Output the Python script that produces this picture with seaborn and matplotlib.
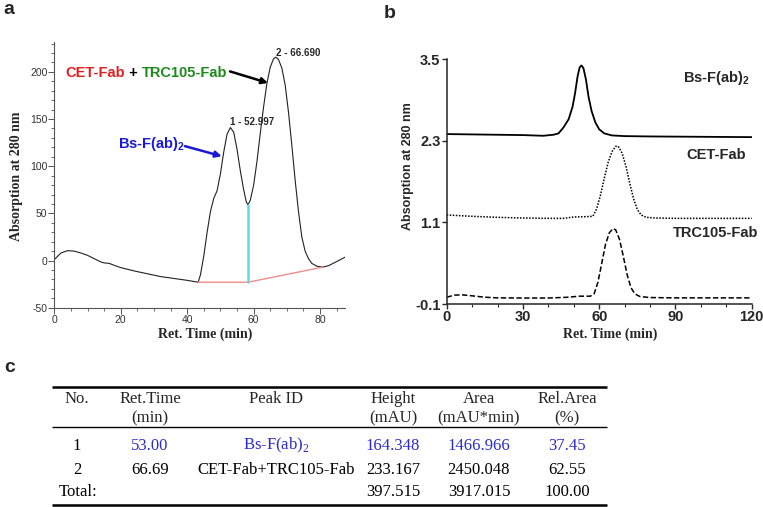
import numpy as np
import pandas as pd
import seaborn as sns
import matplotlib.pyplot as plt
from matplotlib.ticker import MultipleLocator

# ---- panel a : SEC trace of the reaction mix
a_time = [0, 2, 4, 6, 8, 10, 12, 14, 15, 16.5, 18, 20, 24, 28, 32, 36, 40, 43.3,
          44, 45, 46, 47, 48, 49, 50, 51, 52, 53, 54, 55, 56, 57, 57.8, 58.3,
          59, 60, 61, 62, 63, 64, 65, 66, 66.7, 67.5, 68.5, 69.5, 70.5, 71.5,
          72.5, 73.5, 74.5, 75.5, 76.5, 77.5, 79, 80.8, 82.5, 84.5, 87.5]
a_abs = [1, 8, 10.5, 10, 8, 5.5, 2, -1.5, -2.5, -3, -5, -7.5, -11, -14, -17, -19, -21, -23,
         -15, 5, 30, 52, 66, 74, 92, 115, 134, 141, 136, 118, 95, 75, 62, 59,
         64, 80, 105, 135, 163, 188, 205, 214, 215.6, 213, 204, 186, 157, 122,
         85, 52, 25, 10, 2, -3, -6, -7, -5.5, -2, 3.5]
a_peak_time = [52.997, 66.690]
a_peak_label = ['1 - 52.997', '2 - 66.690']
a_peak_label_y = [147, 220.5]
a_base_t = [43.3, 58.3, 80.8]
a_base_y = [-23, -23, -7]
a_split_y = [-23, 59]

# ---- panel b : individual runs, stacked
b_bs_t = [0, 10, 20, 30, 38, 42, 44, 46, 48, 49.5, 50.5, 51.5, 52.3, 53, 53.8,
          54.8, 55.8, 57, 58.5, 60, 62, 65, 70, 80, 100, 120]
b_bs = [2.40, 2.395, 2.39, 2.385, 2.375, 2.39, 2.41, 2.50, 2.62, 2.80, 3.00, 3.25,
        3.38, 3.41, 3.37, 3.20, 2.95, 2.74, 2.57, 2.47, 2.41, 2.38, 2.37, 2.365,
        2.36, 2.355]
b_cet_t = [0, 10, 20, 30, 40, 46, 50, 55, 57.5, 59, 60.5, 62, 63.5, 65, 66.5,
           67.5, 69, 70.5, 72, 73.5, 75, 76.5, 78.5, 82, 90, 100, 120]
b_cet = [1.21, 1.19, 1.175, 1.165, 1.16, 1.16, 1.18, 1.185, 1.19, 1.30, 1.50,
         1.75, 1.98, 2.14, 2.22, 2.22, 2.12, 1.93, 1.68, 1.45, 1.29, 1.21, 1.175,
         1.165, 1.16, 1.16, 1.16]
b_trc_t = [0, 3, 6, 10, 15, 20, 30, 40, 48, 52, 56.5, 58, 59.5, 61, 62.5, 64,
           65.5, 66.5, 68, 69.5, 71, 72.5, 74, 76, 80, 90, 120]
b_trc = [0.0, 0.03, 0.035, 0.02, 0.0, -0.01, -0.012, -0.012, 0.0, 0.015, 0.015,
         0.05, 0.22, 0.50, 0.78, 0.95, 1.01, 0.99, 0.85, 0.60, 0.33, 0.14, 0.05,
         0.01, -0.005, -0.01, -0.01]
b_names = ['Bs-F(ab)$_\\mathregular{2}$', 'CET-Fab', 'TRC105-Fab']
b_name_y = [3.22, 2.09, 0.94]

# ---- panel c : peak table
tbl_head1 = ['No.', 'Ret.Time', 'Peak ID', 'Height', 'Area', 'Rel.Area']
tbl_head2 = ['', '(min)', '', '(mAU)', '(mAU*min)', '(%)']
tbl_no = ['1', '2', 'Total:']
tbl_rt = ['53.00', '66.69', '']
tbl_peak = ['Bs-F(ab)$_\\mathregular{2}$', 'CET-Fab+TRC105-Fab', '']
tbl_height = ['164.348', '233.167', '397.515']
tbl_area = ['1466.966', '2450.048', '3917.015']
tbl_rel = ['37.45', '62.55', '100.00']

sns.set_style('ticks')
plt.rcParams['font.family'] = ['Liberation Sans', 'DejaVu Sans']
plt.rcParams['axes.linewidth'] = 1.0
plt.rcParams['axes.unicode_minus'] = False

W, H = 763, 507
fig = plt.figure(figsize=(W / 100, H / 100), dpi=100)
fig.patch.set_facecolor('white')

def box(x0, y0, x1, y1):
    return [x0 / W, 1 - y1 / H, (x1 - x0) / W, (y1 - y0) / H]

serif = 'Liberation Serif'
blue_txt = '#2b2bd0'

# ================= panel a
ax_a = fig.add_axes(box(54.3, 41.7, 345, 307.7))
sns.lineplot(x=a_time, y=a_abs, ax=ax_a, color='#222222', lw=0.8,
             estimator=None, sort=False)
ax_a.plot(a_base_t, a_base_y, color='#f08c8c', lw=1.0)
ax_a.plot([a_base_t[1], a_base_t[1]], a_split_y, color='#5fd8ea', lw=1.8)
ax_a.set_xlim(0, 87.5)
ax_a.set_ylim(-50, 232)
ax_a.set_xticks([0, 20, 40, 60, 80])
ax_a.set_yticks([-50, 0, 50, 100, 150, 200])
ax_a.xaxis.set_minor_locator(MultipleLocator(5))
ax_a.yaxis.set_minor_locator(MultipleLocator(10))
for s in ['top', 'right']:
    ax_a.spines[s].set_visible(False)
for s in ['left', 'bottom']:
    ax_a.spines[s].set_color('#555555')
    ax_a.spines[s].set_linewidth(0.8)
ax_a.tick_params(which='major', length=4, width=0.7, color='#555555',
                 labelsize=7.5, labelcolor='#333333', pad=1)
ax_a.tick_params(which='minor', length=2.2, width=0.6, color='#555555')
ax_a.set_xlabel('')
ax_a.set_ylabel('')

for t, lab, ly in zip(a_peak_time, a_peak_label, a_peak_label_y):
    ax_a.text(t, ly, lab, fontsize=7, fontweight='bold', ha='left', va='center')

t1 = ax_a.text(3.4, 195, 'CET-Fab', color='#e02020', fontsize=10.5,
               fontweight='bold', ha='left', va='baseline')
t2 = ax_a.annotate(' + ', xy=(1, 0), xycoords=t1, color='black', fontsize=10.5,
                   fontweight='bold', ha='left', va='bottom')
ax_a.annotate('TRC105-Fab', xy=(1, 0), xycoords=t2, color='#1e8a1e',
              fontsize=10.5, fontweight='bold', ha='left', va='bottom')
ax_a.text(19.2, 119, 'Bs-F(ab)$_\\mathregular{2}$', color='#1a1ad6', fontsize=10.5,
          fontweight='bold', ha='left', va='baseline')
ax_a.annotate('', xy=(64.3, 188.3), xytext=(52.9, 200.5),
              arrowprops=dict(arrowstyle='-|>', color='black', lw=1.8,
                              mutation_scale=9, shrinkA=0, shrinkB=0))
ax_a.annotate('', xy=(50.4, 110.6), xytext=(39.3, 121.3),
              arrowprops=dict(arrowstyle='-|>', color='#1a1ad6', lw=1.8,
                              mutation_scale=9, shrinkA=0, shrinkB=0))

# ================= panel b
ax_b = fig.add_axes(box(446.7, 59.3, 751.7, 304))
sns.lineplot(x=b_bs_t, y=b_bs, ax=ax_b, color='black', lw=1.3,
             estimator=None, sort=False)
sns.lineplot(x=b_cet_t, y=b_cet, ax=ax_b, color='black', lw=1.1,
             linestyle=(0, (1, 1)), estimator=None, sort=False)
sns.lineplot(x=b_trc_t, y=b_trc, ax=ax_b, color='black', lw=1.1,
             linestyle=(0, (3.5, 1.6)), estimator=None, sort=False)
ax_b.set_xlim(0, 120)
ax_b.set_ylim(-0.1, 3.5)
ax_b.set_xticks([0, 30, 60, 90, 120])
ax_b.set_yticks([-0.1, 1.1, 2.3, 3.5])
ax_b.set_yticklabels(['-0.1', '1.1', '2.3', '3.5'])
ax_b.xaxis.set_minor_locator(MultipleLocator(10))
for s in ['top', 'right']:
    ax_b.spines[s].set_visible(False)
for s in ['left', 'bottom']:
    ax_b.spines[s].set_linewidth(1.1)
ax_b.tick_params(which='major', length=3.5, width=1.0, labelsize=10.5, pad=1)
ax_b.tick_params(which='minor', length=2, width=0.8)
for lab in ax_b.get_xticklabels() + ax_b.get_yticklabels():
    lab.set_fontweight('bold')
ax_b.set_xlabel('')
ax_b.set_ylabel('')
for name, ny in zip(b_names, b_name_y):
    ax_b.text(106, ny, name, fontsize=10.5, fontweight='bold', ha='center',
              va='center', clip_on=False)

# axis titles and panel letters
fig.text(17 / W, 1 - 176.5 / H, 'Absorption at 280 nm', family=serif,
         fontweight='bold', fontsize=10, rotation=90, ha='center', va='center')
fig.text(205 / W, 1 - 334 / H, 'Ret. Time (min)', family=serif,
         fontweight='bold', fontsize=10, ha='center', va='center')
fig.text(408 / W, 1 - 166 / H, 'Absorption at 280 nm', fontweight='bold',
         fontsize=9, rotation=90, ha='center', va='center')
fig.text(610 / W, 1 - 334 / H, 'Ret. Time (min)', family=serif,
         fontweight='bold', fontsize=10, ha='center', va='center')
fig.text(9 / W, 1 - 10 / H, 'a', fontsize=14, fontweight='bold', ha='center', va='center')
fig.text(390 / W, 1 - 13 / H, 'b', fontsize=14, fontweight='bold', ha='center', va='center')
fig.text(10 / W, 1 - 368 / H, 'c', fontsize=14, fontweight='bold', ha='center', va='center')

# ================= panel c (table)
ax_c = fig.add_axes([0, 0, 1, 1])
ax_c.set_xlim(0, W)
ax_c.set_ylim(H, 0)
ax_c.axis('off')
col_x = [77, 150, 276, 393, 479, 567]
ax_c.hlines(386.7, 52, 607, color='black', lw=1.8)
ax_c.hlines(426.7, 52, 607, color='black', lw=1.0)
ax_c.hlines(505, 52, 607, color='black', lw=1.8)
fs = 12
for x, h1, h2 in zip(col_x, tbl_head1, tbl_head2):
    ax_c.text(x, 403, h1, family=serif, fontsize=fs, ha='center', va='baseline')
    ax_c.text(x, 422, h2, family=serif, fontsize=fs, ha='center', va='baseline')
row_y = [449.5, 474.5, 496]
for i, y in enumerate(row_y):
    col = blue_txt if i == 0 else 'black'
    cells = [tbl_no[i], tbl_rt[i], tbl_peak[i], tbl_height[i], tbl_area[i], tbl_rel[i]]
    for j, (x, c) in enumerate(zip(col_x, cells)):
        if c == '':
            continue
        cc = 'black' if j == 0 else col
        if c == 'Total:':
            ax_c.text(59, y, c, family=serif, fontsize=fs, ha='left', va='baseline', color=cc)
        else:
            ax_c.text(x, y, c, family=serif, fontsize=fs, ha='center',
                      va='baseline', color=cc)

fig.savefig('out.png', dpi=100)
